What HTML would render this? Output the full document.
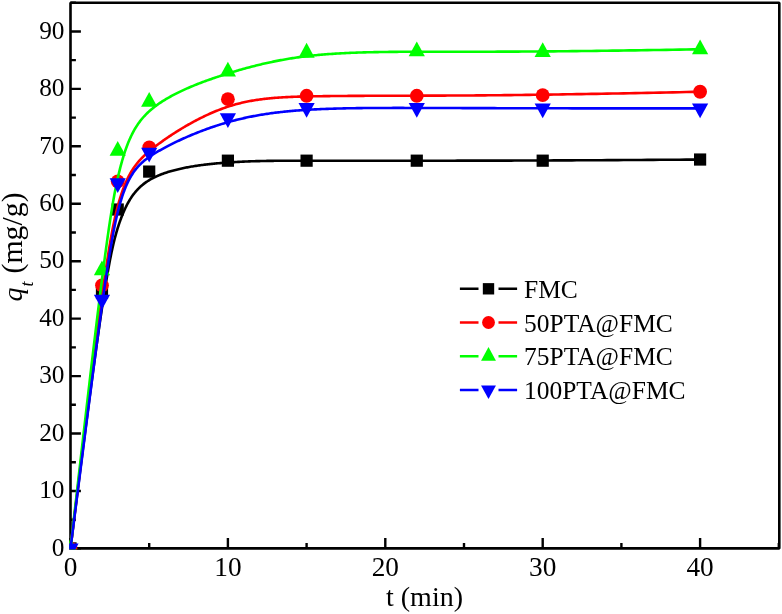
<!DOCTYPE html>
<html><head><meta charset="utf-8"><style>
html,body{margin:0;padding:0;background:#fff;}
svg{display:block;will-change:transform;}
</style></head><body>
<svg width="782" height="614" viewBox="0 0 782 614">
<rect width="782" height="614" fill="#fff"/>
<defs><clipPath id="c"><rect x="69.2" y="1.4" width="711.6" height="548.2"/></clipPath></defs>
<rect x="70.50" y="2.72" width="708.80" height="545.68" fill="none" stroke="#000" stroke-width="2.6" stroke-linejoin="bevel"/>
<path d="M70.50,548.40H80.90M70.50,519.68H75.90M70.50,490.96H80.90M70.50,462.24H75.90M70.50,433.52H80.90M70.50,404.80H75.90M70.50,376.08H80.90M70.50,347.36H75.90M70.50,318.64H80.90M70.50,289.92H75.90M70.50,261.20H80.90M70.50,232.48H75.90M70.50,203.76H80.90M70.50,175.04H75.90M70.50,146.32H80.90M70.50,117.60H75.90M70.50,88.88H80.90M70.50,60.16H75.90M70.50,31.44H80.90M70.50,2.72H75.90M70.50,548.40V537.90M149.20,548.40V543.00M227.90,548.40V537.90M306.60,548.40V543.00M385.30,548.40V537.90M464.00,548.40V543.00M542.70,548.40V537.90M621.40,548.40V543.00M700.10,548.40V537.90M778.80,548.40V543.00" stroke="#000" stroke-width="2.4" fill="none"/>
<g clip-path="url(#c)">
<path d="M70.50,548.40 L71.90,537.01 L73.28,525.91 L74.62,515.09 L75.93,504.55 L77.21,494.29 L78.46,484.29 L79.69,474.56 L80.88,465.09 L82.05,455.88 L83.18,446.92 L84.30,438.22 L85.38,429.76 L86.44,421.53 L87.48,413.55 L88.48,405.80 L89.47,398.28 L90.43,390.99 L91.37,383.91 L92.28,377.05 L93.17,370.41 L94.04,363.98 L94.89,357.74 L95.72,351.72 L96.53,345.88 L97.32,340.24 L98.09,334.79 L98.84,329.52 L99.57,324.44 L100.28,319.53 L100.98,314.79 L101.66,310.22 L102.32,305.81 L102.97,301.57 L103.60,297.48 L104.22,293.54 L104.82,289.75 L105.41,286.10 L105.99,282.60 L106.55,279.22 L107.10,275.99 L107.64,272.87 L108.17,269.89 L108.69,267.02 L109.20,264.26 L109.70,261.62 L110.18,259.09 L110.66,256.65 L111.14,254.32 L111.60,252.08 L112.06,249.94 L112.51,247.88 L112.95,245.90 L113.39,244.00 L113.83,242.17 L114.26,240.42 L114.68,238.73 L115.10,237.11 L115.52,235.54 L115.94,234.03 L116.35,232.57 L116.77,231.15 L117.18,229.78 L117.59,228.44 L118.00,227.14 L118.41,225.87 L118.82,224.62 L119.24,223.40 L119.66,222.19 L120.07,221.01 L120.49,219.84 L120.92,218.69 L121.34,217.57 L121.77,216.46 L122.20,215.36 L122.63,214.29 L123.07,213.23 L123.50,212.20 L123.95,211.18 L124.39,210.17 L124.84,209.19 L125.29,208.22 L125.75,207.27 L126.21,206.33 L126.67,205.41 L127.14,204.51 L127.61,203.62 L128.09,202.75 L128.57,201.89 L129.06,201.05 L129.55,200.23 L130.04,199.42 L130.54,198.62 L131.05,197.84 L131.56,197.07 L132.08,196.32 L132.60,195.58 L133.13,194.85 L133.66,194.14 L134.20,193.44 L134.74,192.75 L135.30,192.08 L135.86,191.42 L136.42,190.77 L136.99,190.14 L137.57,189.51 L138.16,188.90 L138.75,188.30 L139.35,187.71 L139.95,187.13 L140.57,186.56 L141.19,186.01 L141.82,185.46 L142.46,184.93 L143.10,184.40 L143.76,183.89 L144.42,183.38 L145.09,182.89 L145.77,182.40 L146.46,181.92 L147.15,181.46 L147.86,181.00 L148.57,180.55 L149.30,180.10 L150.03,179.67 L150.77,179.24 L151.53,178.82 L152.29,178.41 L153.06,178.01 L153.84,177.61 L154.63,177.22 L155.43,176.84 L156.25,176.46 L157.07,176.09 L157.90,175.73 L158.75,175.37 L159.60,175.02 L160.47,174.67 L161.34,174.33 L162.23,174.00 L163.12,173.67 L164.03,173.35 L164.94,173.03 L165.86,172.72 L166.79,172.41 L167.73,172.11 L168.68,171.82 L169.64,171.53 L170.61,171.24 L171.58,170.96 L172.56,170.69 L173.56,170.42 L174.55,170.16 L175.56,169.90 L176.57,169.65 L177.59,169.40 L178.62,169.15 L179.66,168.91 L180.70,168.68 L181.75,168.45 L182.80,168.23 L183.86,168.01 L184.93,167.79 L186.01,167.58 L187.08,167.37 L188.17,167.17 L189.26,166.98 L190.36,166.78 L191.46,166.59 L192.56,166.41 L193.68,166.23 L194.79,166.05 L195.91,165.88 L197.04,165.71 L198.17,165.54 L199.30,165.38 L200.44,165.23 L201.58,165.07 L202.72,164.92 L203.87,164.78 L205.02,164.64 L206.18,164.50 L207.33,164.36 L208.49,164.23 L209.66,164.10 L210.82,163.98 L211.99,163.85 L213.16,163.74 L214.33,163.62 L215.50,163.51 L216.68,163.40 L217.86,163.29 L219.04,163.19 L220.21,163.09 L221.40,162.99 L222.58,162.89 L223.76,162.80 L224.94,162.71 L226.12,162.62 L227.31,162.54 L228.49,162.46 L229.68,162.38 L230.86,162.30 L232.04,162.23 L233.23,162.15 L234.41,162.08 L235.60,162.02 L236.78,161.95 L237.97,161.89 L239.16,161.83 L240.35,161.77 L241.54,161.71 L242.73,161.65 L243.92,161.60 L245.11,161.55 L246.31,161.50 L247.51,161.45 L248.71,161.41 L249.91,161.36 L251.11,161.32 L252.31,161.28 L253.52,161.24 L254.73,161.21 L255.94,161.17 L257.16,161.14 L258.37,161.11 L259.59,161.08 L260.82,161.05 L262.04,161.02 L263.27,160.99 L264.50,160.97 L265.74,160.95 L266.97,160.92 L268.22,160.90 L269.46,160.88 L270.71,160.86 L271.96,160.85 L273.22,160.83 L274.48,160.82 L275.75,160.80 L277.02,160.79 L278.29,160.78 L279.57,160.77 L280.85,160.76 L282.14,160.75 L283.43,160.74 L284.72,160.73 L286.03,160.72 L287.33,160.72 L288.65,160.71 L289.96,160.71 L291.29,160.70 L292.61,160.70 L293.95,160.69 L295.29,160.69 L296.63,160.69 L297.98,160.69 L299.34,160.68 L300.70,160.68 L302.07,160.68 L303.45,160.68 L304.83,160.68 L306.22,160.68 L307.62,160.68 L309.02,160.68 L310.43,160.68 L311.85,160.68 L313.27,160.68 L314.70,160.68 L316.14,160.68 L317.59,160.68 L319.04,160.68 L320.50,160.68 L321.97,160.68 L323.45,160.68 L324.94,160.68 L326.43,160.68 L327.93,160.68 L329.45,160.68 L330.97,160.68 L332.50,160.68 L334.04,160.68 L335.59,160.68 L337.15,160.68 L338.72,160.68 L340.30,160.68 L341.89,160.68 L343.49,160.68 L345.10,160.68 L346.72,160.68 L348.35,160.68 L349.99,160.68 L351.65,160.68 L353.31,160.68 L354.99,160.68 L356.68,160.68 L358.38,160.68 L360.09,160.68 L361.81,160.68 L363.55,160.68 L365.30,160.68 L367.06,160.68 L368.83,160.68 L370.62,160.68 L372.42,160.68 L374.23,160.68 L376.06,160.68 L377.90,160.68 L379.75,160.68 L381.62,160.68 L383.50,160.68 L385.40,160.68 L387.31,160.68 L389.23,160.68 L391.17,160.68 L393.13,160.68 L395.10,160.68 L397.08,160.68 L399.08,160.68 L401.10,160.68 L403.13,160.68 L405.17,160.68 L407.24,160.68 L409.32,160.68 L411.41,160.68 L413.52,160.68 L415.65,160.68 L417.79,160.68 L419.96,160.68 L422.13,160.68 L424.33,160.68 L426.54,160.68 L428.77,160.68 L431.02,160.68 L433.29,160.68 L435.58,160.68 L437.89,160.68 L440.22,160.68 L442.58,160.68 L444.96,160.68 L447.38,160.68 L449.82,160.68 L452.30,160.68 L454.81,160.68 L457.35,160.67 L459.93,160.67 L462.55,160.67 L465.21,160.67 L467.92,160.67 L470.66,160.66 L473.45,160.66 L476.29,160.66 L479.18,160.65 L482.11,160.65 L485.10,160.64 L488.14,160.64 L491.24,160.63 L494.39,160.62 L497.61,160.62 L500.88,160.61 L504.21,160.60 L507.61,160.59 L511.07,160.58 L514.60,160.57 L518.20,160.56 L521.87,160.55 L525.61,160.53 L529.42,160.52 L533.31,160.51 L537.27,160.49 L541.31,160.47 L545.44,160.46 L549.64,160.44 L553.93,160.42 L558.30,160.40 L562.76,160.38 L567.31,160.36 L571.95,160.34 L576.68,160.31 L581.50,160.29 L586.42,160.26 L591.43,160.23 L596.54,160.21 L601.76,160.18 L607.07,160.15 L612.49,160.11 L618.01,160.08 L623.64,160.05 L629.38,160.01 L635.22,159.98 L641.18,159.94 L647.25,159.90 L653.44,159.86 L659.74,159.81 L666.16,159.77 L672.70,159.73 L679.37,159.68 L686.15,159.63 L693.06,159.58 L700.10,159.53" fill="none" stroke="#000000" stroke-width="2.6" stroke-linejoin="round"/>
<rect x="64.40" y="542.30" width="12.20" height="12.20" fill="#000000"/>
<rect x="95.88" y="286.69" width="12.20" height="12.20" fill="#000000"/>
<rect x="111.62" y="203.40" width="12.20" height="12.20" fill="#000000"/>
<rect x="143.10" y="165.49" width="12.20" height="12.20" fill="#000000"/>
<rect x="221.80" y="154.58" width="12.20" height="12.20" fill="#000000"/>
<rect x="300.50" y="154.58" width="12.20" height="12.20" fill="#000000"/>
<rect x="410.68" y="154.58" width="12.20" height="12.20" fill="#000000"/>
<rect x="536.60" y="154.58" width="12.20" height="12.20" fill="#000000"/>
<rect x="694.00" y="153.43" width="12.20" height="12.20" fill="#000000"/>
<path d="M70.50,548.40 L71.90,536.67 L73.28,525.23 L74.62,514.07 L75.93,503.18 L77.21,492.56 L78.46,482.21 L79.69,472.12 L80.88,462.29 L82.05,452.71 L83.18,443.39 L84.30,434.32 L85.38,425.48 L86.44,416.89 L87.48,408.54 L88.48,400.41 L89.47,392.51 L90.43,384.84 L91.37,377.39 L92.28,370.15 L93.17,363.13 L94.04,356.32 L94.89,349.71 L95.72,343.30 L96.53,337.08 L97.32,331.07 L98.09,325.23 L98.84,319.59 L99.57,314.13 L100.28,308.84 L100.98,303.73 L101.66,298.78 L102.32,294.01 L102.97,289.39 L103.60,284.93 L104.22,280.63 L104.82,276.48 L105.41,272.47 L105.99,268.61 L106.55,264.88 L107.10,261.29 L107.64,257.83 L108.17,254.49 L108.69,251.28 L109.20,248.19 L109.70,245.22 L110.18,242.35 L110.66,239.59 L111.14,236.94 L111.60,234.38 L112.06,231.92 L112.51,229.56 L112.95,227.28 L113.39,225.08 L113.83,222.97 L114.26,220.93 L114.68,218.96 L115.10,217.06 L115.52,215.23 L115.94,213.46 L116.35,211.74 L116.77,210.08 L117.18,208.46 L117.59,206.89 L118.00,205.37 L118.41,203.88 L118.82,202.42 L119.24,200.99 L119.66,199.59 L120.07,198.22 L120.49,196.87 L120.92,195.55 L121.34,194.26 L121.77,192.99 L122.20,191.74 L122.63,190.52 L123.07,189.32 L123.50,188.15 L123.95,186.99 L124.39,185.87 L124.84,184.76 L125.29,183.67 L125.75,182.61 L126.21,181.56 L126.67,180.53 L127.14,179.53 L127.61,178.54 L128.09,177.57 L128.57,176.62 L129.06,175.69 L129.55,174.78 L130.04,173.88 L130.54,173.00 L131.05,172.13 L131.56,171.28 L132.08,170.44 L132.60,169.62 L133.13,168.81 L133.66,168.02 L134.20,167.24 L134.74,166.47 L135.30,165.71 L135.86,164.96 L136.42,164.23 L136.99,163.51 L137.57,162.79 L138.16,162.09 L138.75,161.39 L139.35,160.71 L139.95,160.03 L140.57,159.36 L141.19,158.70 L141.82,158.04 L142.46,157.40 L143.10,156.75 L143.76,156.12 L144.42,155.49 L145.09,154.86 L145.77,154.23 L146.46,153.62 L147.15,153.00 L147.86,152.39 L148.57,151.78 L149.30,151.17 L150.03,150.56 L150.77,149.95 L151.53,149.35 L152.29,148.74 L153.06,148.13 L153.84,147.52 L154.63,146.92 L155.43,146.30 L156.25,145.69 L157.07,145.08 L157.90,144.46 L158.75,143.83 L159.60,143.21 L160.47,142.58 L161.34,141.95 L162.23,141.32 L163.12,140.68 L164.03,140.05 L164.94,139.41 L165.86,138.77 L166.79,138.13 L167.73,137.49 L168.68,136.85 L169.64,136.20 L170.61,135.56 L171.58,134.92 L172.56,134.27 L173.56,133.63 L174.55,132.99 L175.56,132.34 L176.57,131.70 L177.59,131.06 L178.62,130.42 L179.66,129.78 L180.70,129.14 L181.75,128.51 L182.80,127.88 L183.86,127.25 L184.93,126.62 L186.01,125.99 L187.08,125.37 L188.17,124.75 L189.26,124.13 L190.36,123.52 L191.46,122.91 L192.56,122.30 L193.68,121.70 L194.79,121.10 L195.91,120.51 L197.04,119.92 L198.17,119.34 L199.30,118.76 L200.44,118.18 L201.58,117.61 L202.72,117.05 L203.87,116.49 L205.02,115.94 L206.18,115.40 L207.33,114.86 L208.49,114.33 L209.66,113.80 L210.82,113.29 L211.99,112.77 L213.16,112.27 L214.33,111.78 L215.50,111.29 L216.68,110.81 L217.86,110.34 L219.04,109.87 L220.21,109.42 L221.40,108.97 L222.58,108.54 L223.76,108.11 L224.94,107.69 L226.12,107.28 L227.31,106.88 L228.49,106.49 L229.68,106.11 L230.86,105.75 L232.04,105.39 L233.23,105.04 L234.41,104.70 L235.60,104.37 L236.78,104.05 L237.97,103.73 L239.16,103.43 L240.35,103.14 L241.54,102.85 L242.73,102.57 L243.92,102.30 L245.11,102.04 L246.31,101.79 L247.51,101.55 L248.71,101.31 L249.91,101.08 L251.11,100.86 L252.31,100.65 L253.52,100.44 L254.73,100.24 L255.94,100.05 L257.16,99.86 L258.37,99.68 L259.59,99.51 L260.82,99.34 L262.04,99.18 L263.27,99.03 L264.50,98.88 L265.74,98.74 L266.97,98.60 L268.22,98.47 L269.46,98.34 L270.71,98.22 L271.96,98.11 L273.22,98.00 L274.48,97.89 L275.75,97.79 L277.02,97.70 L278.29,97.60 L279.57,97.52 L280.85,97.43 L282.14,97.36 L283.43,97.28 L284.72,97.21 L286.03,97.14 L287.33,97.08 L288.65,97.02 L289.96,96.96 L291.29,96.90 L292.61,96.85 L293.95,96.80 L295.29,96.75 L296.63,96.71 L297.98,96.67 L299.34,96.63 L300.70,96.59 L302.07,96.56 L303.45,96.52 L304.83,96.49 L306.22,96.46 L307.62,96.43 L309.02,96.40 L310.43,96.37 L311.85,96.35 L313.27,96.32 L314.70,96.30 L316.14,96.27 L317.59,96.25 L319.04,96.23 L320.50,96.21 L321.97,96.18 L323.45,96.16 L324.94,96.14 L326.43,96.12 L327.93,96.11 L329.45,96.09 L330.97,96.07 L332.50,96.05 L334.04,96.04 L335.59,96.02 L337.15,96.01 L338.72,95.99 L340.30,95.98 L341.89,95.97 L343.49,95.95 L345.10,95.94 L346.72,95.93 L348.35,95.92 L349.99,95.90 L351.65,95.89 L353.31,95.88 L354.99,95.87 L356.68,95.86 L358.38,95.85 L360.09,95.85 L361.81,95.84 L363.55,95.83 L365.30,95.82 L367.06,95.81 L368.83,95.81 L370.62,95.80 L372.42,95.79 L374.23,95.78 L376.06,95.78 L377.90,95.77 L379.75,95.77 L381.62,95.76 L383.50,95.75 L385.40,95.75 L387.31,95.74 L389.23,95.74 L391.17,95.73 L393.13,95.73 L395.10,95.72 L397.08,95.72 L399.08,95.71 L401.10,95.70 L403.13,95.70 L405.17,95.69 L407.24,95.69 L409.32,95.68 L411.41,95.68 L413.52,95.67 L415.65,95.67 L417.79,95.66 L419.96,95.66 L422.13,95.65 L424.33,95.64 L426.54,95.64 L428.77,95.63 L431.02,95.63 L433.29,95.62 L435.58,95.61 L437.89,95.60 L440.22,95.60 L442.58,95.59 L444.96,95.58 L447.38,95.57 L449.82,95.56 L452.30,95.55 L454.81,95.54 L457.35,95.53 L459.93,95.51 L462.55,95.50 L465.21,95.48 L467.92,95.47 L470.66,95.45 L473.45,95.43 L476.29,95.41 L479.18,95.39 L482.11,95.37 L485.10,95.34 L488.14,95.32 L491.24,95.29 L494.39,95.26 L497.61,95.23 L500.88,95.20 L504.21,95.16 L507.61,95.13 L511.07,95.09 L514.60,95.05 L518.20,95.01 L521.87,94.96 L525.61,94.92 L529.42,94.87 L533.31,94.82 L537.27,94.76 L541.31,94.71 L545.44,94.65 L549.64,94.59 L553.93,94.53 L558.30,94.46 L562.76,94.39 L567.31,94.32 L571.95,94.24 L576.68,94.17 L581.50,94.09 L586.42,94.00 L591.43,93.92 L596.54,93.83 L601.76,93.73 L607.07,93.64 L612.49,93.54 L618.01,93.43 L623.64,93.33 L629.38,93.22 L635.22,93.10 L641.18,92.99 L647.25,92.86 L653.44,92.74 L659.74,92.61 L666.16,92.48 L672.70,92.34 L679.37,92.20 L686.15,92.05 L693.06,91.91 L700.10,91.75" fill="none" stroke="#ff0000" stroke-width="2.6" stroke-linejoin="round"/>
<circle cx="70.50" cy="548.40" r="6.90" fill="#ff0000"/>
<circle cx="101.98" cy="285.32" r="6.90" fill="#ff0000"/>
<circle cx="117.72" cy="181.36" r="6.90" fill="#ff0000"/>
<circle cx="149.20" cy="147.47" r="6.90" fill="#ff0000"/>
<circle cx="227.90" cy="99.22" r="6.90" fill="#ff0000"/>
<circle cx="306.60" cy="95.77" r="6.90" fill="#ff0000"/>
<circle cx="416.78" cy="95.77" r="6.90" fill="#ff0000"/>
<circle cx="542.70" cy="95.20" r="6.90" fill="#ff0000"/>
<circle cx="700.10" cy="91.75" r="6.90" fill="#ff0000"/>
<path d="M70.50,548.40 L71.90,536.01 L73.28,523.90 L74.62,512.09 L75.93,500.56 L77.21,489.31 L78.46,478.34 L79.69,467.63 L80.88,457.20 L82.05,447.03 L83.18,437.12 L84.30,427.47 L85.38,418.07 L86.44,408.91 L87.48,400.00 L88.48,391.33 L89.47,382.90 L90.43,374.70 L91.37,366.72 L92.28,358.98 L93.17,351.45 L94.04,344.13 L94.89,337.03 L95.72,330.14 L96.53,323.45 L97.32,316.96 L98.09,310.66 L98.84,304.56 L99.57,298.64 L100.28,292.91 L100.98,287.36 L101.66,281.99 L102.32,276.78 L102.97,271.75 L103.60,266.88 L104.22,262.17 L104.82,257.61 L105.41,253.21 L105.99,248.95 L106.55,244.84 L107.10,240.86 L107.64,237.02 L108.17,233.32 L108.69,229.74 L109.20,226.29 L109.70,222.95 L110.18,219.73 L110.66,216.63 L111.14,213.63 L111.60,210.73 L112.06,207.93 L112.51,205.23 L112.95,202.62 L113.39,200.10 L113.83,197.66 L114.26,195.30 L114.68,193.02 L115.10,190.81 L115.52,188.66 L115.94,186.58 L116.35,184.56 L116.77,182.60 L117.18,180.68 L117.59,178.82 L118.00,176.99 L118.41,175.21 L118.82,173.46 L119.24,171.74 L119.66,170.06 L120.07,168.40 L120.49,166.77 L120.92,165.17 L121.34,163.59 L121.77,162.04 L122.20,160.52 L122.63,159.03 L123.07,157.56 L123.50,156.12 L123.95,154.71 L124.39,153.32 L124.84,151.95 L125.29,150.61 L125.75,149.29 L126.21,147.99 L126.67,146.72 L127.14,145.48 L127.61,144.25 L128.09,143.05 L128.57,141.86 L129.06,140.70 L129.55,139.56 L130.04,138.44 L130.54,137.34 L131.05,136.26 L131.56,135.20 L132.08,134.16 L132.60,133.14 L133.13,132.14 L133.66,131.15 L134.20,130.18 L134.74,129.23 L135.30,128.29 L135.86,127.38 L136.42,126.47 L136.99,125.59 L137.57,124.71 L138.16,123.86 L138.75,123.01 L139.35,122.19 L139.95,121.37 L140.57,120.57 L141.19,119.78 L141.82,119.01 L142.46,118.24 L143.10,117.49 L143.76,116.75 L144.42,116.02 L145.09,115.31 L145.77,114.60 L146.46,113.90 L147.15,113.21 L147.86,112.53 L148.57,111.86 L149.30,111.20 L150.03,110.55 L150.77,109.90 L151.53,109.26 L152.29,108.63 L153.06,108.00 L153.84,107.39 L154.63,106.77 L155.43,106.16 L156.25,105.56 L157.07,104.96 L157.90,104.37 L158.75,103.78 L159.60,103.19 L160.47,102.61 L161.34,102.04 L162.23,101.46 L163.12,100.89 L164.03,100.33 L164.94,99.77 L165.86,99.21 L166.79,98.66 L167.73,98.11 L168.68,97.57 L169.64,97.03 L170.61,96.49 L171.58,95.96 L172.56,95.43 L173.56,94.90 L174.55,94.38 L175.56,93.87 L176.57,93.35 L177.59,92.84 L178.62,92.34 L179.66,91.83 L180.70,91.33 L181.75,90.84 L182.80,90.35 L183.86,89.86 L184.93,89.37 L186.01,88.89 L187.08,88.42 L188.17,87.94 L189.26,87.47 L190.36,87.00 L191.46,86.54 L192.56,86.08 L193.68,85.62 L194.79,85.17 L195.91,84.72 L197.04,84.27 L198.17,83.83 L199.30,83.39 L200.44,82.95 L201.58,82.51 L202.72,82.08 L203.87,81.65 L205.02,81.23 L206.18,80.81 L207.33,80.39 L208.49,79.97 L209.66,79.56 L210.82,79.15 L211.99,78.74 L213.16,78.34 L214.33,77.94 L215.50,77.54 L216.68,77.14 L217.86,76.75 L219.04,76.36 L220.21,75.97 L221.40,75.58 L222.58,75.20 L223.76,74.82 L224.94,74.45 L226.12,74.07 L227.31,73.70 L228.49,73.33 L229.68,72.96 L230.86,72.60 L232.04,72.24 L233.23,71.88 L234.41,71.52 L235.60,71.17 L236.78,70.82 L237.97,70.47 L239.16,70.12 L240.35,69.78 L241.54,69.44 L242.73,69.10 L243.92,68.77 L245.11,68.44 L246.31,68.11 L247.51,67.78 L248.71,67.46 L249.91,67.14 L251.11,66.82 L252.31,66.51 L253.52,66.20 L254.73,65.89 L255.94,65.58 L257.16,65.28 L258.37,64.98 L259.59,64.69 L260.82,64.39 L262.04,64.10 L263.27,63.82 L264.50,63.53 L265.74,63.25 L266.97,62.97 L268.22,62.70 L269.46,62.43 L270.71,62.16 L271.96,61.90 L273.22,61.64 L274.48,61.38 L275.75,61.13 L277.02,60.88 L278.29,60.63 L279.57,60.38 L280.85,60.14 L282.14,59.91 L283.43,59.67 L284.72,59.44 L286.03,59.22 L287.33,58.99 L288.65,58.77 L289.96,58.56 L291.29,58.35 L292.61,58.14 L293.95,57.93 L295.29,57.73 L296.63,57.53 L297.98,57.34 L299.34,57.15 L300.70,56.96 L302.07,56.78 L303.45,56.60 L304.83,56.43 L306.22,56.26 L307.62,56.09 L309.02,55.93 L310.43,55.77 L311.85,55.61 L313.27,55.46 L314.70,55.31 L316.14,55.17 L317.59,55.03 L319.04,54.89 L320.50,54.76 L321.97,54.63 L323.45,54.51 L324.94,54.39 L326.43,54.27 L327.93,54.15 L329.45,54.04 L330.97,53.94 L332.50,53.83 L334.04,53.73 L335.59,53.63 L337.15,53.54 L338.72,53.45 L340.30,53.36 L341.89,53.27 L343.49,53.19 L345.10,53.11 L346.72,53.03 L348.35,52.96 L349.99,52.89 L351.65,52.82 L353.31,52.75 L354.99,52.69 L356.68,52.63 L358.38,52.57 L360.09,52.51 L361.81,52.46 L363.55,52.41 L365.30,52.36 L367.06,52.31 L368.83,52.27 L370.62,52.23 L372.42,52.19 L374.23,52.15 L376.06,52.11 L377.90,52.08 L379.75,52.05 L381.62,52.02 L383.50,51.99 L385.40,51.96 L387.31,51.94 L389.23,51.91 L391.17,51.89 L393.13,51.87 L395.10,51.85 L397.08,51.83 L399.08,51.82 L401.10,51.80 L403.13,51.79 L405.17,51.78 L407.24,51.77 L409.32,51.76 L411.41,51.75 L413.52,51.74 L415.65,51.73 L417.79,51.73 L419.96,51.72 L422.13,51.72 L424.33,51.72 L426.54,51.71 L428.77,51.71 L431.02,51.71 L433.29,51.71 L435.58,51.71 L437.89,51.71 L440.22,51.71 L442.58,51.71 L444.96,51.71 L447.38,51.72 L449.82,51.72 L452.30,51.72 L454.81,51.72 L457.35,51.72 L459.93,51.72 L462.55,51.72 L465.21,51.72 L467.92,51.72 L470.66,51.72 L473.45,51.72 L476.29,51.72 L479.18,51.71 L482.11,51.71 L485.10,51.70 L488.14,51.70 L491.24,51.69 L494.39,51.68 L497.61,51.67 L500.88,51.66 L504.21,51.65 L507.61,51.64 L511.07,51.62 L514.60,51.60 L518.20,51.58 L521.87,51.56 L525.61,51.54 L529.42,51.52 L533.31,51.49 L537.27,51.46 L541.31,51.43 L545.44,51.40 L549.64,51.36 L553.93,51.33 L558.30,51.28 L562.76,51.24 L567.31,51.20 L571.95,51.15 L576.68,51.10 L581.50,51.04 L586.42,50.99 L591.43,50.93 L596.54,50.86 L601.76,50.80 L607.07,50.73 L612.49,50.66 L618.01,50.58 L623.64,50.50 L629.38,50.42 L635.22,50.33 L641.18,50.24 L647.25,50.15 L653.44,50.05 L659.74,49.95 L666.16,49.84 L672.70,49.73 L679.37,49.62 L686.15,49.50 L693.06,49.37 L700.10,49.25" fill="none" stroke="#00ff00" stroke-width="2.6" stroke-linejoin="round"/>
<polygon points="70.50,538.53 62.40,553.33 78.60,553.33" fill="#00ff00"/>
<polygon points="101.98,260.52 93.88,275.32 110.08,275.32" fill="#00ff00"/>
<polygon points="117.72,141.05 109.62,155.85 125.82,155.85" fill="#00ff00"/>
<polygon points="149.20,91.94 141.10,106.74 157.30,106.74" fill="#00ff00"/>
<polygon points="227.90,61.78 219.80,76.58 236.00,76.58" fill="#00ff00"/>
<polygon points="306.60,42.83 298.50,57.63 314.70,57.63" fill="#00ff00"/>
<polygon points="416.78,41.39 408.68,56.19 424.88,56.19" fill="#00ff00"/>
<polygon points="542.70,42.25 534.60,57.05 550.80,57.05" fill="#00ff00"/>
<polygon points="700.10,39.38 692.00,54.18 708.20,54.18" fill="#00ff00"/>
<path d="M70.50,548.40 L71.90,537.31 L73.28,526.47 L74.62,515.89 L75.93,505.55 L77.21,495.46 L78.46,485.61 L79.69,475.99 L80.88,466.62 L82.05,457.47 L83.18,448.55 L84.30,439.85 L85.38,431.38 L86.44,423.12 L87.48,415.08 L88.48,407.25 L89.47,399.63 L90.43,392.21 L91.37,384.99 L92.28,377.97 L93.17,371.14 L94.04,364.50 L94.89,358.05 L95.72,351.79 L96.53,345.70 L97.32,339.79 L98.09,334.05 L98.84,328.49 L99.57,323.09 L100.28,317.85 L100.98,312.78 L101.66,307.86 L102.32,303.09 L102.97,298.48 L103.60,294.01 L104.22,289.68 L104.82,285.49 L105.41,281.44 L105.99,277.52 L106.55,273.73 L107.10,270.07 L107.64,266.53 L108.17,263.11 L108.69,259.80 L109.20,256.61 L109.70,253.53 L110.18,250.55 L110.66,247.67 L111.14,244.89 L111.60,242.21 L112.06,239.62 L112.51,237.12 L112.95,234.70 L113.39,232.37 L113.83,230.11 L114.26,227.93 L114.68,225.83 L115.10,223.79 L115.52,221.81 L115.94,219.90 L116.35,218.04 L116.77,216.24 L117.18,214.49 L117.59,212.79 L118.00,211.13 L118.41,209.51 L118.82,207.93 L119.24,206.39 L119.66,204.88 L120.07,203.40 L120.49,201.95 L120.92,200.53 L121.34,199.15 L121.77,197.79 L122.20,196.46 L122.63,195.16 L123.07,193.89 L123.50,192.65 L123.95,191.44 L124.39,190.25 L124.84,189.08 L125.29,187.95 L125.75,186.84 L126.21,185.75 L126.67,184.69 L127.14,183.65 L127.61,182.64 L128.09,181.65 L128.57,180.68 L129.06,179.73 L129.55,178.80 L130.04,177.90 L130.54,177.01 L131.05,176.15 L131.56,175.30 L132.08,174.47 L132.60,173.67 L133.13,172.87 L133.66,172.10 L134.20,171.34 L134.74,170.60 L135.30,169.88 L135.86,169.17 L136.42,168.47 L136.99,167.79 L137.57,167.12 L138.16,166.47 L138.75,165.83 L139.35,165.20 L139.95,164.58 L140.57,163.98 L141.19,163.38 L141.82,162.80 L142.46,162.22 L143.10,161.65 L143.76,161.10 L144.42,160.55 L145.09,160.00 L145.77,159.47 L146.46,158.94 L147.15,158.42 L147.86,157.90 L148.57,157.39 L149.30,156.89 L150.03,156.39 L150.77,155.89 L151.53,155.39 L152.29,154.90 L153.06,154.41 L153.84,153.92 L154.63,153.43 L155.43,152.94 L156.25,152.46 L157.07,151.97 L157.90,151.48 L158.75,150.99 L159.60,150.50 L160.47,150.01 L161.34,149.52 L162.23,149.03 L163.12,148.54 L164.03,148.04 L164.94,147.55 L165.86,147.06 L166.79,146.57 L167.73,146.07 L168.68,145.58 L169.64,145.09 L170.61,144.60 L171.58,144.11 L172.56,143.62 L173.56,143.13 L174.55,142.64 L175.56,142.15 L176.57,141.67 L177.59,141.18 L178.62,140.70 L179.66,140.21 L180.70,139.73 L181.75,139.25 L182.80,138.77 L183.86,138.30 L184.93,137.82 L186.01,137.35 L187.08,136.88 L188.17,136.41 L189.26,135.94 L190.36,135.48 L191.46,135.01 L192.56,134.55 L193.68,134.10 L194.79,133.64 L195.91,133.19 L197.04,132.74 L198.17,132.29 L199.30,131.85 L200.44,131.41 L201.58,130.97 L202.72,130.54 L203.87,130.11 L205.02,129.68 L206.18,129.26 L207.33,128.84 L208.49,128.42 L209.66,128.01 L210.82,127.60 L211.99,127.20 L213.16,126.80 L214.33,126.41 L215.50,126.01 L216.68,125.63 L217.86,125.25 L219.04,124.87 L220.21,124.50 L221.40,124.13 L222.58,123.76 L223.76,123.41 L224.94,123.05 L226.12,122.71 L227.31,122.36 L228.49,122.03 L229.68,121.70 L230.86,121.37 L232.04,121.05 L233.23,120.73 L234.41,120.42 L235.60,120.12 L236.78,119.82 L237.97,119.52 L239.16,119.23 L240.35,118.95 L241.54,118.67 L242.73,118.40 L243.92,118.13 L245.11,117.86 L246.31,117.60 L247.51,117.34 L248.71,117.09 L249.91,116.85 L251.11,116.61 L252.31,116.37 L253.52,116.14 L254.73,115.91 L255.94,115.68 L257.16,115.46 L258.37,115.25 L259.59,115.04 L260.82,114.83 L262.04,114.63 L263.27,114.43 L264.50,114.24 L265.74,114.05 L266.97,113.86 L268.22,113.68 L269.46,113.50 L270.71,113.32 L271.96,113.15 L273.22,112.99 L274.48,112.82 L275.75,112.66 L277.02,112.51 L278.29,112.35 L279.57,112.21 L280.85,112.06 L282.14,111.92 L283.43,111.78 L284.72,111.64 L286.03,111.51 L287.33,111.38 L288.65,111.26 L289.96,111.13 L291.29,111.01 L292.61,110.90 L293.95,110.78 L295.29,110.67 L296.63,110.57 L297.98,110.46 L299.34,110.36 L300.70,110.26 L302.07,110.16 L303.45,110.07 L304.83,109.98 L306.22,109.89 L307.62,109.80 L309.02,109.72 L310.43,109.64 L311.85,109.56 L313.27,109.48 L314.70,109.41 L316.14,109.34 L317.59,109.27 L319.04,109.20 L320.50,109.13 L321.97,109.07 L323.45,109.01 L324.94,108.95 L326.43,108.89 L327.93,108.84 L329.45,108.78 L330.97,108.73 L332.50,108.68 L334.04,108.64 L335.59,108.59 L337.15,108.55 L338.72,108.51 L340.30,108.47 L341.89,108.43 L343.49,108.39 L345.10,108.36 L346.72,108.32 L348.35,108.29 L349.99,108.26 L351.65,108.23 L353.31,108.21 L354.99,108.18 L356.68,108.16 L358.38,108.13 L360.09,108.11 L361.81,108.09 L363.55,108.07 L365.30,108.06 L367.06,108.04 L368.83,108.02 L370.62,108.01 L372.42,108.00 L374.23,107.99 L376.06,107.98 L377.90,107.97 L379.75,107.96 L381.62,107.95 L383.50,107.94 L385.40,107.94 L387.31,107.93 L389.23,107.93 L391.17,107.93 L393.13,107.92 L395.10,107.92 L397.08,107.92 L399.08,107.92 L401.10,107.92 L403.13,107.92 L405.17,107.93 L407.24,107.93 L409.32,107.93 L411.41,107.93 L413.52,107.94 L415.65,107.94 L417.79,107.95 L419.96,107.95 L422.13,107.96 L424.33,107.96 L426.54,107.97 L428.77,107.98 L431.02,107.98 L433.29,107.99 L435.58,108.00 L437.89,108.00 L440.22,108.01 L442.58,108.02 L444.96,108.02 L447.38,108.03 L449.82,108.04 L452.30,108.05 L454.81,108.06 L457.35,108.06 L459.93,108.07 L462.55,108.08 L465.21,108.09 L467.92,108.10 L470.66,108.11 L473.45,108.11 L476.29,108.12 L479.18,108.13 L482.11,108.14 L485.10,108.15 L488.14,108.16 L491.24,108.17 L494.39,108.17 L497.61,108.18 L500.88,108.19 L504.21,108.20 L507.61,108.21 L511.07,108.22 L514.60,108.23 L518.20,108.23 L521.87,108.24 L525.61,108.25 L529.42,108.26 L533.31,108.27 L537.27,108.27 L541.31,108.28 L545.44,108.29 L549.64,108.30 L553.93,108.30 L558.30,108.31 L562.76,108.32 L567.31,108.32 L571.95,108.33 L576.68,108.34 L581.50,108.34 L586.42,108.35 L591.43,108.36 L596.54,108.36 L601.76,108.37 L607.07,108.37 L612.49,108.38 L618.01,108.38 L623.64,108.38 L629.38,108.39 L635.22,108.39 L641.18,108.39 L647.25,108.40 L653.44,108.40 L659.74,108.40 L666.16,108.40 L672.70,108.41 L679.37,108.41 L686.15,108.41 L693.06,108.41 L700.10,108.41" fill="none" stroke="#0000ff" stroke-width="2.6" stroke-linejoin="round"/>
<polygon points="70.50,558.27 62.40,543.47 78.60,543.47" fill="#0000ff"/>
<polygon points="101.98,309.55 93.88,294.75 110.08,294.75" fill="#0000ff"/>
<polygon points="117.72,192.95 109.62,178.15 125.82,178.15" fill="#0000ff"/>
<polygon points="149.20,162.51 141.10,147.71 157.30,147.71" fill="#0000ff"/>
<polygon points="227.90,128.04 219.80,113.24 236.00,113.24" fill="#0000ff"/>
<polygon points="306.60,117.70 298.50,102.90 314.70,102.90" fill="#0000ff"/>
<polygon points="416.78,117.70 408.68,102.90 424.88,102.90" fill="#0000ff"/>
<polygon points="542.70,118.28 534.60,103.48 550.80,103.48" fill="#0000ff"/>
<polygon points="700.10,118.28 692.00,103.48 708.20,103.48" fill="#0000ff"/>
</g>
<g font-family="Liberation Serif, serif" font-size="27.3" fill="#000"><text x="64.5" y="555.60" text-anchor="end" font-size="25.3">0</text><text x="64.5" y="498.16" text-anchor="end" font-size="25.3">10</text><text x="64.5" y="440.72" text-anchor="end" font-size="25.3">20</text><text x="64.5" y="383.28" text-anchor="end" font-size="25.3">30</text><text x="64.5" y="325.84" text-anchor="end" font-size="25.3">40</text><text x="64.5" y="268.40" text-anchor="end" font-size="25.3">50</text><text x="64.5" y="210.96" text-anchor="end" font-size="25.3">60</text><text x="64.5" y="153.52" text-anchor="end" font-size="25.3">70</text><text x="64.5" y="96.08" text-anchor="end" font-size="25.3">80</text><text x="64.5" y="38.64" text-anchor="end" font-size="25.3">90</text><text x="70.50" y="576.1" text-anchor="middle">0</text><text x="227.90" y="576.1" text-anchor="middle">10</text><text x="385.30" y="576.1" text-anchor="middle">20</text><text x="542.70" y="576.1" text-anchor="middle">30</text><text x="700.10" y="576.1" text-anchor="middle">40</text></g>
<text x="424.5" y="606.2" font-family="Liberation Serif, serif" font-size="28" text-anchor="middle">t (min)</text>
<text transform="translate(21.5,301.5) rotate(-90)" font-family="Liberation Serif, serif" font-size="28"><tspan font-style="italic">q</tspan><tspan font-style="italic" font-size="18" dy="11" dx="1">t</tspan><tspan dy="-11" dx="1"> </tspan><tspan font-size="29.8">(mg/g)</tspan></text>
<path d="M459.9,288.8H478.5M498.5,288.8H517.1" stroke="#000000" stroke-width="2.6"/>
<rect x="482.83" y="283.13" width="11.35" height="11.35" fill="#000000"/>
<text x="0" y="298.10" transform="translate(524,0) scale(0.988,1)" font-family="Liberation Serif, serif" font-size="25.8">FMC</text>
<path d="M459.9,322.5H478.5M498.5,322.5H517.1" stroke="#ff0000" stroke-width="2.6"/>
<circle cx="488.50" cy="322.50" r="6.42" fill="#ff0000"/>
<text x="0" y="331.80" transform="translate(524,0) scale(0.988,1)" font-family="Liberation Serif, serif" font-size="25.8">50PTA@FMC</text>
<path d="M459.9,356.2H478.5M498.5,356.2H517.1" stroke="#00ff00" stroke-width="2.6"/>
<polygon points="488.50,347.12 481.05,360.74 495.95,360.74" fill="#00ff00"/>
<text x="0" y="365.50" transform="translate(524,0) scale(0.988,1)" font-family="Liberation Serif, serif" font-size="25.8">75PTA@FMC</text>
<path d="M459.9,390.0H478.5M498.5,390.0H517.1" stroke="#0000ff" stroke-width="2.6"/>
<polygon points="488.50,399.08 481.05,385.46 495.95,385.46" fill="#0000ff"/>
<text x="0" y="399.30" transform="translate(524,0) scale(0.988,1)" font-family="Liberation Serif, serif" font-size="25.8">100PTA@FMC</text>
</svg>
</body></html>
